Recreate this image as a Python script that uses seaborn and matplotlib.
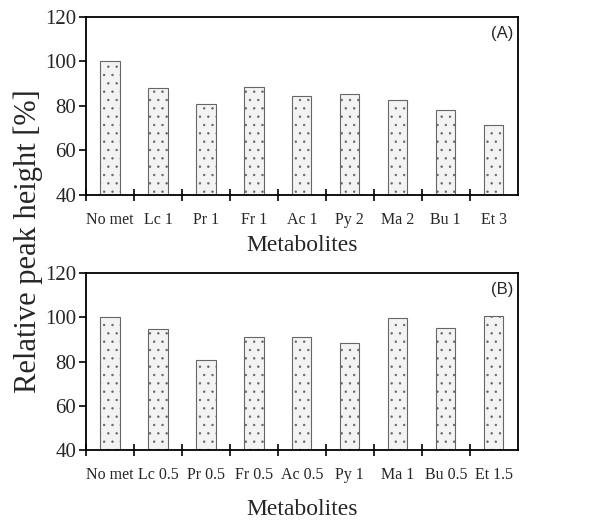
#!/usr/bin/env python3
"""Relative peak height of the analyte with added metabolites, two panels."""

import matplotlib as mpl
mpl.use("Agg")
import matplotlib.pyplot as plt
import numpy as np
import pandas as pd
import seaborn as sns

# Panel (A): metabolite concentrations and relative peak heights
labels_a = ["No met", "Lc 1", "Pr 1", "Fr 1", "Ac 1", "Py 2", "Ma 2", "Bu 1", "Et 3"]
height_a = [100, 88, 81, 88.5, 84.3, 85.5, 82.8, 78.3, 71.5]

# Panel (B)
labels_b = ["No met", "Lc 0.5", "Pr 0.5", "Fr 0.5", "Ac 0.5", "Py 1", "Ma 1", "Bu 0.5", "Et 1.5"]
height_b = [100, 94.8, 80.8, 91, 91.3, 88.2, 99.7, 95.2, 100.8]

y_ticks = [40, 60, 80, 100, 120]

sns.set_theme(style="ticks")
plt.rcParams["font.family"] = ["Liberation Serif", "DejaVu Serif"]
plt.rcParams["hatch.linewidth"] = 0.5


def draw_panel(ax, labels, values, tag):
    """One bar panel with ticks on the category boundaries."""
    df = pd.DataFrame({"metabolite": labels, "height": values})
    sns.barplot(data=df, x="metabolite", y="height", ax=ax, width=0.4,
                color="#f3f3f3", edgecolor="#666666", linewidth=0.8)
    for patch in ax.patches:
        patch.set_hatch("..")
    n = len(labels)
    ax.set_xlim(-0.5, n - 0.5)
    ax.set_ylim(40, 120)
    ax.set_yticks(y_ticks)
    ax.tick_params(axis="y", labelsize=15, direction="out", length=5,
                   width=1.2, color="black", pad=2)
    # boundary ticks (crossing the axis) without labels, labels at centres
    ax.set_xticks(np.arange(n) - 0.5, minor=False)
    ax.set_xticklabels([])
    ax.set_xticks(np.arange(n), minor=True)
    ax.set_xticklabels(labels, minor=True)
    ax.tick_params(axis="x", which="major", direction="inout", length=9,
                   width=1.2, color="black")
    ax.tick_params(axis="x", which="minor", length=0, labelsize=11.5, pad=12)
    for side in ("left", "right", "top", "bottom"):
        ax.spines[side].set_visible(True)
        ax.spines[side].set_linewidth(1.3)
        ax.spines[side].set_color("black")
    ax.set_ylabel("")
    ax.text(0.99, 0.95, tag, transform=ax.transAxes, ha="right", va="top",
            fontsize=12, family=["Liberation Sans", "DejaVu Sans"])


fig = plt.figure(figsize=(6.02, 5.24), dpi=100)
ax_a = fig.add_axes([0.143, 0.628, 0.717, 0.340])
ax_b = fig.add_axes([0.143, 0.141, 0.717, 0.338])

draw_panel(ax_a, labels_a, height_a, "(A)")
draw_panel(ax_b, labels_b, height_b, "(B)")

ax_a.set_xlabel("Metabolites", fontsize=17, labelpad=5)
ax_b.set_xlabel("Metabolites", fontsize=17, labelpad=12)
fig.text(0.047, 0.54, "Relative peak height [%]", rotation=90,
         ha="center", va="center", fontsize=22)

fig.savefig("out.png", dpi=100)
